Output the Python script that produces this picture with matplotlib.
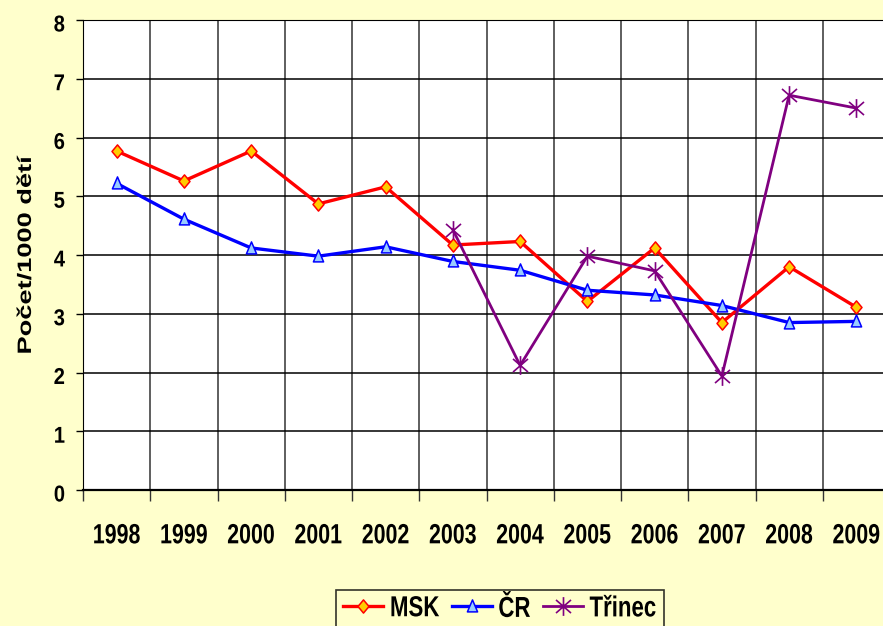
import numpy as np
import matplotlib
matplotlib.use('Agg')
import matplotlib.pyplot as plt
from matplotlib.path import Path
from matplotlib.transforms import Affine2D
from matplotlib.patheffects import AbstractPathEffect
from matplotlib.ticker import FixedLocator, NullFormatter

# data
years = ['1998', '1999', '2000', '2001', '2002', '2003', '2004', '2005', '2006', '2007', '2008', '2009']
msk = [5.77, 5.26, 5.77, 4.87, 5.16, 4.17, 4.23, 3.21, 4.12, 2.85, 3.80, 3.11]
cr = [5.22, 4.61, 4.12, 3.98, 4.14, 3.89, 3.74, 3.40, 3.32, 3.14, 2.85, 2.87]
trinec = [np.nan] * 5 + [4.43, 2.12, 3.98, 3.73, 1.94, 6.72, 6.50]

plt.rcParams['font.family'] = ['Liberation Sans', 'DejaVu Sans']
plt.rcParams['font.weight'] = 'bold'
bg = '#FFFFCC'


class Stretch(AbstractPathEffect):
    # stretch glyphs around their centre (the original chart was stretched vertically)
    def __init__(self, sx=1.0, sy=1.0, dy=0.0):
        super().__init__()
        self.sx, self.sy, self.dy = sx, sy, dy

    def draw_path(self, renderer, gc, tpath, affine, rgbFace=None):
        ext = tpath.get_extents()
        cx = (ext.x0 + ext.x1) / 2
        cy = (ext.y0 + ext.y1) / 2
        t = (Affine2D().translate(-cx, -cy).scale(self.sx, self.sy).translate(cx, cy)
             + affine + Affine2D().translate(0, self.dy))
        renderer.draw_path(gc, tpath, t, rgbFace)


# markers, a bit taller than wide like in the reference
diamond = Path([(0, 1.2), (1, 0), (0, -1.2), (-1, 0), (0, 1.2)],
               [Path.MOVETO, Path.LINETO, Path.LINETO, Path.LINETO, Path.CLOSEPOLY])
triangle = Path([(0, 1.1), (0.85, -0.9), (-0.85, -0.9), (0, 1.1)],
                [Path.MOVETO, Path.LINETO, Path.LINETO, Path.CLOSEPOLY])
star = Path([(0, -1), (0, 1), (-0.8, -0.7), (0.8, 0.7), (-0.8, 0.7), (0.8, -0.7)],
            [Path.MOVETO, Path.LINETO, Path.MOVETO, Path.LINETO, Path.MOVETO, Path.LINETO])

fig = plt.figure(figsize=(8.83, 6.26), dpi=100)
fig.patch.set_facecolor(bg)
ax = fig.add_axes([83 / 883, 136 / 626, 807 / 883, 470 / 626])
ax.set_facecolor('white')

x = np.arange(len(years))
ax.plot(x, msk, color='#FF0000', lw=2.4, marker=diamond, ms=9.5, mfc='#FFCC00', mec='#FF0000', mew=1.1,
        label='MSK', zorder=3)
ax.plot(x, cr, color='#0000FF', lw=2.4, marker=triangle, ms=9.5, mfc='#99CCFF', mec='#0000FF', mew=1.1,
        label='ČR', zorder=4)
ax.plot(x, trinec, color='#800080', lw=2.0, marker=star, ms=13.5, mfc='none', mec='#800080', mew=1.2,
        label='Třinec', zorder=5)

ax.set_xlim(-0.5, len(years) - 0.5)
ax.set_ylim(0, 8)
ax.set_yticks(range(0, 9))
ylbls = ax.set_yticklabels([str(v) for v in range(0, 9)], fontsize=14.5, fontweight='bold')
ax.set_xticks(x)
xlbls = ax.set_xticklabels(years, fontsize=15.4, fontweight='bold')
for t in xlbls:
    t.set_path_effects([Stretch(1.0, 1.3)])
for t in ylbls:
    t.set_path_effects([Stretch(1.0, 1.14, -3)])
ax.tick_params(axis='x', which='major', length=0, pad=26)
ax.xaxis.set_minor_locator(FixedLocator(np.arange(-0.5, len(years), 1)))
ax.xaxis.set_minor_formatter(NullFormatter())
ax.tick_params(axis='x', which='minor', length=8, width=1, color='#333333', direction='out')
ax.tick_params(axis='y', length=5, width=1, direction='out', pad=8)

ax.grid(True, axis='y', color='black', lw=1.1)
ax.grid(True, axis='x', which='minor', color='#333333', lw=1.1)
ax.set_axisbelow(True)
for s in ['left', 'bottom', 'top']:
    ax.spines[s].set_color('black')
ax.spines['bottom'].set_linewidth(1.6)
ax.spines['right'].set_visible(False)

ax.set_ylabel('Počet/1000 dětí', fontsize=19.6, fontweight='bold', labelpad=10)
ax.yaxis.label.set_path_effects([Stretch(1.0, 0.71)])

leg = fig.legend(loc='upper center', bbox_to_anchor=(0.566, 0.075), ncol=3, frameon=True, fontsize=16,
                 handlelength=1.8, handletextpad=0.3, columnspacing=0.55, borderpad=0.35, fancybox=False)
leg.get_frame().set_edgecolor('black')
leg.get_frame().set_facecolor(bg)
leg.get_frame().set_linewidth(1.2)
for t in leg.get_texts():
    t.set_path_effects([Stretch(1.0, 1.3)])

fig.savefig('out.png', dpi=100, facecolor=fig.get_facecolor())
